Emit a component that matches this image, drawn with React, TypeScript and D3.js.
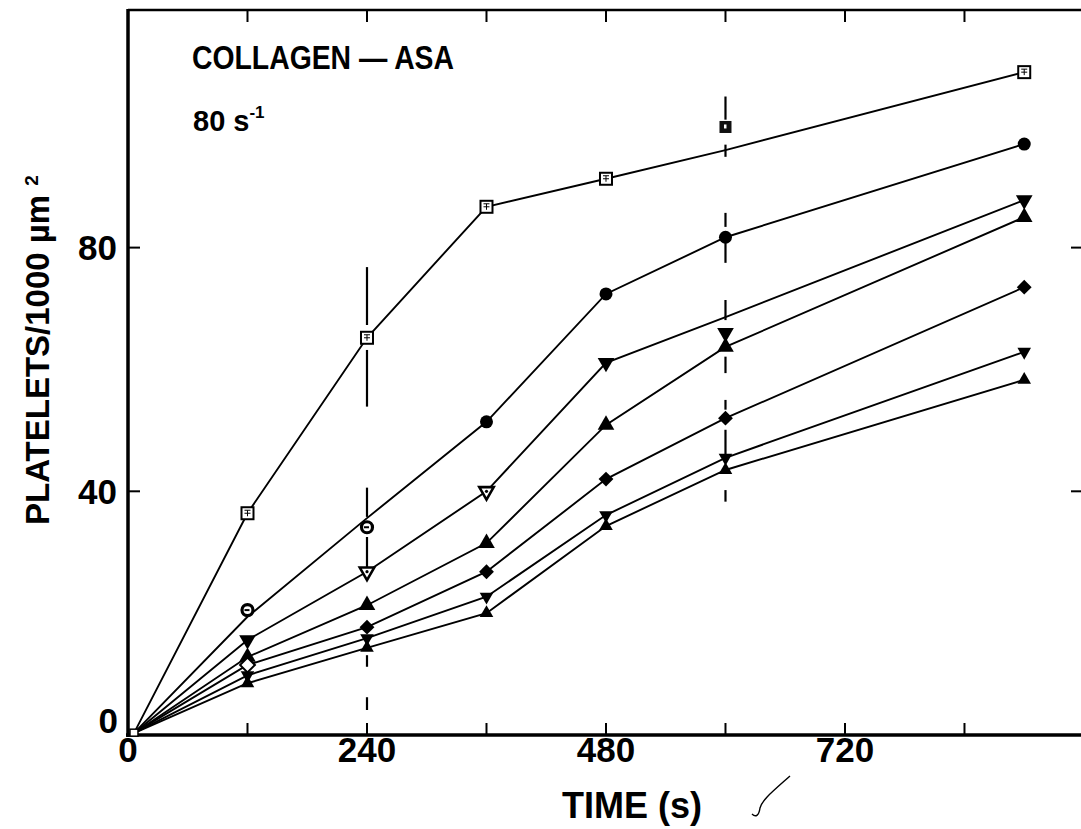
import * as d3 from "d3";

// Tiempos de medida (s)
const tiempos = [6, 120, 240, 360, 480, 600, 900];

const serieCuadrado = [0.3, 36.4, 65.2, 86.7, 91.3, 99.8, 108.8];
const serieCirculo = [0.3, 20.5, 34.1, 51.4, 72.4, 81.7, 97.0];
const serieTrianAbajo = [0.3, 15.6, 26.8, 40.0, 61.1, 66.0, 87.8];
const serieTrianArriba = [0.3, 12.8, 21.3, 31.5, 50.9, 63.7, 85.0];
const serieRombo = [0.3, 11.5, 17.7, 26.8, 42.0, 52.0, 73.5];
const serieTrianAbajoP = [0.3, 9.8, 15.9, 22.7, 36.1, 45.5, 62.9];
const serieTrianArribaP = [0.3, 8.5, 14.3, 20.0, 34.3, 43.5, 58.3];

// Trazos de las curvas (donde difieren de los marcadores)
const lineaCuadrado = [0.3, 36.4, 65.2, 86.7, 91.3, 96.0, 108.8];
const lineaCirculo = [0.3, 19.4, 35.6, 51.4, 72.4, 81.7, 97.0];
const lineaTrianAbajo = [0.3, 15.6, 26.8, 40.0, 61.1, 68.6, 87.8];

// Barras discontinuas en 240 s y 600 s
const barra240 = [[76.8, 67.3], [63.2, 53.9], [40.6, 35.8], [32.5, 27.1], [13.1, 11.2], [6.2, 4.1]];
const barra600 = [[104.8, 101.0], [96.9, 94.9], [85.7, 83.4], [80.8, 77.5], [71.4, 68.1], [62.1, 59.4], [55.0, 53.4], [50.1, 45.6], [40.2, 38.3]];

const ticksX = [120, 240, 360, 480, 600, 720, 840];
const etiquetasX = [0, 240, 480, 720];
const ticksY = [40, 80];

const W = 1081;
const H = 829;
const FUENTE = "'Liberation Sans', Arial, Helvetica, sans-serif";

const x = d3.scaleLinear().domain([0, 955]).range([128, 1079]);
const y = d3.scaleLinear().domain([0, 119]).range([735, 10]);

const linea = d3
  .line<[number, number]>()
  .x((d) => x(d[0]))
  .y((d) => y(d[1]));

const series = [
  { marcas: serieCuadrado, traza: lineaCuadrado, forma: "cuadrado" },
  { marcas: serieCirculo, traza: lineaCirculo, forma: "circulo" },
  { marcas: serieTrianAbajo, traza: lineaTrianAbajo, forma: "abajo" },
  { marcas: serieTrianArriba, traza: serieTrianArriba, forma: "arriba" },
  { marcas: serieRombo, traza: serieRombo, forma: "rombo" },
  { marcas: serieTrianAbajoP, traza: serieTrianAbajoP, forma: "abajoP" },
  { marcas: serieTrianArribaP, traza: serieTrianArribaP, forma: "arribaP" },
];

const sym = (tipo: d3.SymbolType, size: number) => d3.symbol().type(tipo).size(size)() as string;

function Marcador({ forma, i, cx, cy }: { forma: string; i: number; cx: number; cy: number }) {
  const t = `translate(${cx},${cy})`;
  if (i === 0) {
    if (forma !== "cuadrado") return null;
    return <rect x={cx - 4} y={cy - 4} width={8} height={7} fill="#fff" stroke="#000" strokeWidth={1.5} />;
  }
  switch (forma) {
    case "cuadrado":
      if (i === 5)
        return (
          <g transform={t}>
            <rect x={-6} y={-6} width={12} height={12} fill="#111" />
            <rect x={-1.5} y={-2.5} width={2.5} height={4} fill="#fff" />
          </g>
        );
      return (
        <g transform={t}>
          <rect x={-6} y={-6} width={12} height={12} fill="#fff" stroke="#000" strokeWidth={2} />
          <path d="M-3,0H3M0,-3V3M-3,-3H3" stroke="#000" strokeWidth={1} fill="none" />
        </g>
      );
    case "circulo":
      if (i === 1 || i === 2)
        return (
          <g transform={t}>
            <circle r={5.5} fill="#fff" stroke="#000" strokeWidth={3.2} />
            <rect x={-3} y={-1} width={5} height={2} fill="#000" />
          </g>
        );
      return <circle cx={cx} cy={cy} r={6.5} fill="#000" />;
    case "abajo":
      if (i === 2 || i === 3)
        return (
          <g transform={`${t} rotate(180)`}>
            <path d={sym(d3.symbolTriangle, 90)} fill="#fff" stroke="#000" strokeWidth={2.6} />
            <circle r={1.6} fill="#000" />
          </g>
        );
      return <path d={sym(d3.symbolTriangle, 120)} transform={`${t} rotate(180)`} fill="#000" />;
    case "arriba":
      return <path d={sym(d3.symbolTriangle, 120)} transform={t} fill="#000" />;
    case "rombo":
      return (
        <path
          d={sym(d3.symbolSquare, 110)}
          transform={`${t} rotate(45)`}
          fill={i === 1 ? "#fff" : "#000"}
          stroke="#000"
          strokeWidth={i === 1 ? 2 : 0}
        />
      );
    case "abajoP":
      return <path d={sym(d3.symbolTriangle, 80)} transform={`${t} rotate(180)`} fill="#000" />;
    default:
      return <path d={sym(d3.symbolTriangle, 80)} transform={t} fill="#000" />;
  }
}

export default function App() {
  return (
    <svg
      width={W}
      height={H}
      viewBox={`0 0 ${W} ${H}`}
      style={{ position: "absolute", left: 0, top: 0, background: "#fff" }}
      fontFamily={FUENTE}
    >
      <rect width={W} height={H} fill="#fff" />

      {/* Marco (el borde derecho queda fuera de la imagen) */}
      <line x1={x(0)} x2={W} y1={y(119)} y2={y(119)} stroke="#000" strokeWidth={2.5} />
      <line x1={x(0)} x2={x(0)} y1={y(119) - 1} y2={y(0) + 2} stroke="#000" strokeWidth={3.5} />
      <line x1={x(0) - 2} x2={W} y1={y(0)} y2={y(0)} stroke="#000" strokeWidth={3.5} />

      {/* Marcas de los ejes */}
      {ticksX.map((t) => (
        <g key={"tx" + t}>
          <line x1={x(t)} x2={x(t)} y1={y(0)} y2={y(0) - 12} stroke="#000" strokeWidth={2} />
          <line x1={x(t)} x2={x(t)} y1={y(119)} y2={y(119) + 12} stroke="#000" strokeWidth={2} />
        </g>
      ))}
      {ticksY.map((v) => (
        <g key={"ty" + v}>
          <line x1={x(0)} x2={x(0) + 12} y1={y(v)} y2={y(v)} stroke="#000" strokeWidth={2} />
          <line x1={W} x2={W - 10} y1={y(v)} y2={y(v)} stroke="#000" strokeWidth={2} />
        </g>
      ))}

      {/* Etiquetas de los ejes */}
      {etiquetasX.map((t) => (
        <text key={"lx" + t} x={x(t)} y={762} textAnchor="middle" fontSize={35} fontWeight="bold">
          {t}
        </text>
      ))}
      {ticksY.map((v) => (
        <text key={"ly" + v} x={117} y={y(v)} dy="0.36em" textAnchor="end" fontSize={35} fontWeight="bold">
          {v}
        </text>
      ))}
      <text x={118} y={y(0) - 15} dy="0.36em" textAnchor="end" fontSize={35} fontWeight="bold">
        0
      </text>

      <text x={632} y={818} textAnchor="middle" fontSize={36} fontWeight="bold">
        TIME (s)
      </text>
      <text
        transform={`translate(49,${350}) rotate(-90)`}
        textAnchor="middle"
        fontSize={33}
        fontWeight="bold"
      >
        PLATELETS/1000 µm <tspan fontSize={19} dy={-11}>2</tspan>
      </text>

      {/* Título */}
      <text x={192} y={69} fontSize={34} fontWeight="bold" textLength={262} lengthAdjust="spacingAndGlyphs">
        COLLAGEN — ASA
      </text>
      <text x={193} y={131} fontSize={29} fontWeight="bold">
        80 s<tspan fontSize={17} dy={-13}>-1</tspan>
      </text>

      {/* Barras discontinuas */}
      {[
        { t: 240, segs: barra240 },
        { t: 600, segs: barra600 },
      ].map((b) =>
        b.segs.map((s, k) => (
          <line
            key={b.t + "-" + k}
            x1={x(b.t)}
            x2={x(b.t)}
            y1={y(s[0])}
            y2={y(s[1])}
            stroke="#000"
            strokeWidth={2.2}
          />
        ))
      )}

      {/* Curvas */}
      {series.map((s, k) => (
        <path
          key={"c" + k}
          d={linea(tiempos.map((t, i) => [t, s.traza[i]] as [number, number])) as string}
          fill="none"
          stroke="#000"
          strokeWidth={1.9}
        />
      ))}

      {/* Marcadores */}
      {series.map((s, k) =>
        tiempos.map((t, i) => (
          <Marcador key={"m" + k + "-" + i} forma={s.forma} i={i} cx={x(t)} cy={y(s.marcas[i])} />
        ))
      )}

      {/* Trazo a mano junto al eje */}
      <path d="M752,814 C756,818 759,815 760,808 C762,800 772,792 790,776" fill="none" stroke="#000" strokeWidth={1.4} />
    </svg>
  );
}
